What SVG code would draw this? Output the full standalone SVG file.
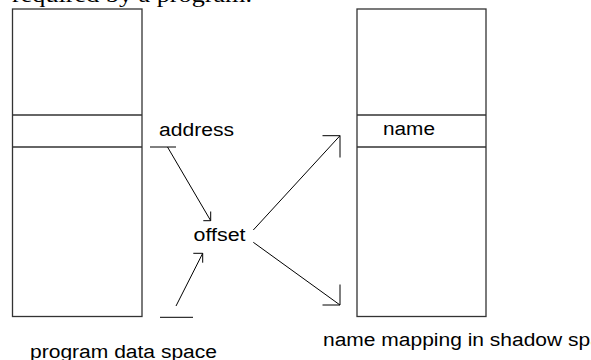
<svg xmlns="http://www.w3.org/2000/svg" width="591" height="360" viewBox="0 0 591 360">
  <style>
    .box { fill: #fff; stroke: #333; stroke-width: 1.3; }
    .div { stroke: #333; stroke-width: 1.3; }
    .ln { fill: none; stroke: #000; stroke-width: 1; }
    .lbl { font-family: "Liberation Sans", Arial, sans-serif; font-size: 18px; fill: #000; }
    .body { font-family: "Liberation Serif", "Times New Roman", serif; font-size: 22px; fill: #000; }
  </style>
  <rect width="591" height="360" fill="#fff"/>

  <!-- running text above the figure -->
  <text class="body" x="12" y="1.5" textLength="240" lengthAdjust="spacingAndGlyphs">required by a program.</text>

  <!-- program data space -->
  <g id="program-space">
    <rect class="box" x="12.5" y="9" width="129.5" height="307.5"/>
    <line class="div" x1="12.5" y1="115" x2="142" y2="115"/>
    <line class="div" x1="12.5" y1="147" x2="142" y2="147"/>
    <text class="lbl" x="30" y="358" textLength="187" lengthAdjust="spacingAndGlyphs">program data space</text>
  </g>

  <!-- shadow space name mapping -->
  <g id="shadow-space">
    <rect class="box" x="357" y="9" width="129" height="307.5"/>
    <line class="div" x1="357" y1="115" x2="486" y2="115"/>
    <line class="div" x1="357" y1="147" x2="486" y2="147"/>
    <text class="lbl" x="383" y="135" textLength="52" lengthAdjust="spacingAndGlyphs">name</text>
    <text class="lbl" x="323" y="346" textLength="301" lengthAdjust="spacingAndGlyphs">name mapping in shadow space</text>
  </g>

  <g id="address">
    <text class="lbl" x="159" y="136" textLength="75" lengthAdjust="spacingAndGlyphs">address</text>
  </g>

  <g id="offset">
    <text class="lbl" x="193.5" y="241" textLength="52" lengthAdjust="spacingAndGlyphs">offset</text>
  </g>

  <!-- connectors with right-angle heads -->
  <g id="connectors">
    <line class="ln" x1="150" y1="147" x2="176" y2="147"/>
    <line class="ln" x1="167.5" y1="147" x2="210.7" y2="220.7"/>
    <polyline class="ln" points="210.7,211.5 210.7,220.7 203.3,220.7"/>

    <line class="ln" x1="160" y1="317.3" x2="193" y2="317.3"/>
    <line class="ln" x1="176" y1="306" x2="202.7" y2="253.3"/>
    <polyline class="ln" points="193.3,253.3 202.7,253.3 202.7,262.7"/>

    <line class="ln" x1="253.3" y1="230" x2="340" y2="135.7"/>
    <polyline class="ln" points="322.5,135.7 340,135.7 340,157.5"/>

    <line class="ln" x1="253.3" y1="242.3" x2="340" y2="305"/>
    <polyline class="ln" points="340,284.5 340,305 322.5,305"/>
  </g>
</svg>
